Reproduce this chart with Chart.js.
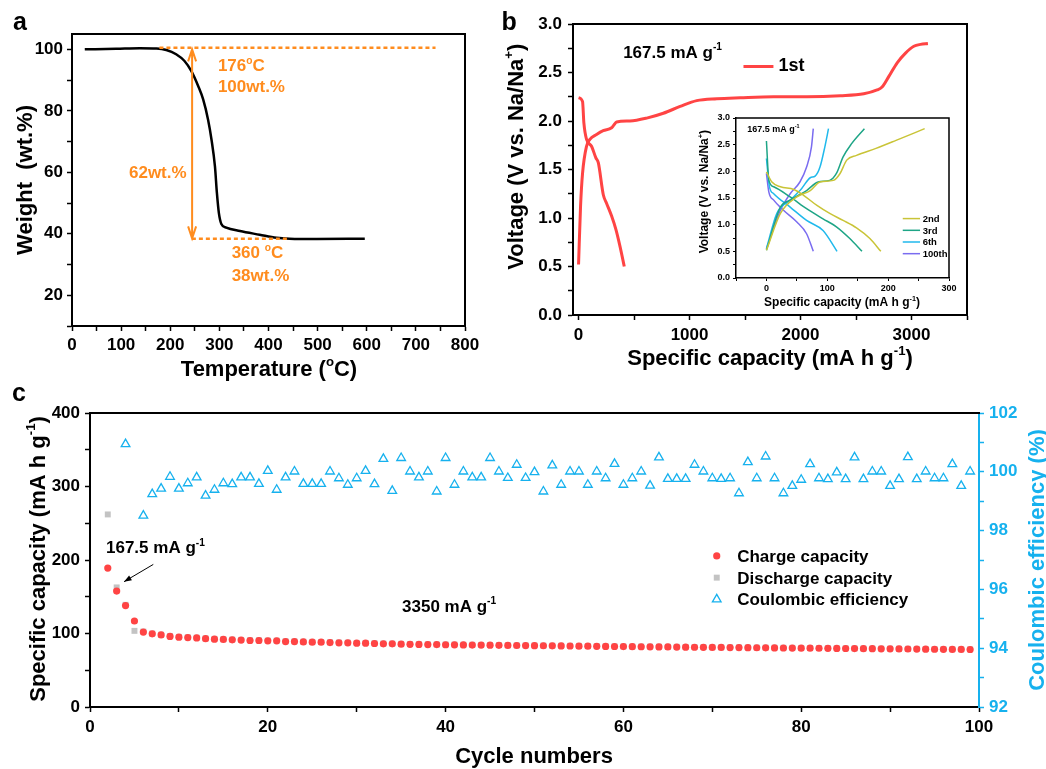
<!DOCTYPE html>
<html>
<head>
<meta charset="utf-8">
<script src="https://cdn.jsdelivr.net/npm/chart.js@4.4.1/dist/chart.umd.min.js"></script>
<style>
  html, body { margin: 0; padding: 0; background: #fff; }
  #wrap { position: relative; width: 1046px; height: 769px; overflow: hidden; }
  canvas { position: absolute; }
</style>
</head>
<body>
<div id="wrap">
  <canvas id="tga" width="485" height="385" style="left:0;top:0"></canvas>
  <canvas id="volt" width="561" height="385" style="left:485px;top:0"></canvas>
  <canvas id="inset" width="272" height="206" style="left:690px;top:108px"></canvas>
  <canvas id="cycle" width="1046" height="389" style="left:0;top:380px"></canvas>
</div>
<script>
const FONT = '"Liberation Sans", Arial, Helvetica, sans-serif';
const ORANGE = '#ff8c1e';
const RED = '#ff4444';
const GREY = '#c3c3c3';
const BLUE = '#16b1ee';

// ---- (a) TGA ----
const tgaTemp = [26, 90, 138, 172, 192, 212, 229, 243, 257, 267, 277, 284, 291, 295, 299, 304, 314, 342, 382, 416, 443, 498, 596];
const tgaWeight = [100.0, 100.2, 100.4, 100.3, 99.8, 98.4, 96.2, 92.9, 88.0, 83.7, 77.1, 70.6, 61.9, 53.2, 46.7, 43.2, 42.0, 40.9, 39.7, 38.7, 38.4, 38.3, 38.4];
const tgaTempTicks = [0, 100, 200, 300, 400, 500, 600, 700, 800];
const tgaWeightTicks = [20, 40, 60, 80, 100];

// ---- (b) first cycle ----
const firstDisCap = [0, 36, 48, 72, 117, 156, 178, 223, 253, 298, 337, 373, 412];
const firstDisV = [2.24, 2.20, 1.98, 1.81, 1.74, 1.62, 1.57, 1.24, 1.15, 1.02, 0.88, 0.71, 0.50];
const firstChgCap = [0, 18, 36, 72, 102, 162, 222, 298, 319, 343, 463, 614, 764, 915, 1065, 1246, 1456, 1757, 2058, 2359, 2570, 2690, 2735, 2796, 2871, 2946, 3021, 3082, 3148];
const firstChgV = [0.52, 1.12, 1.46, 1.74, 1.81, 1.86, 1.90, 1.93, 1.96, 1.99, 2.00, 2.03, 2.08, 2.15, 2.21, 2.23, 2.24, 2.25, 2.25, 2.26, 2.28, 2.32, 2.35, 2.46, 2.60, 2.70, 2.77, 2.79, 2.80];
const capTicks = [0, 1000, 2000, 3000];
const voltTicks = [0, 0.5, 1.0, 1.5, 2.0, 2.5, 3.0];

// ---- (b) inset: later cycles ----
const insetNames = ['2nd', '3rd', '6th', '100th'];
const insetColors = ['#c9c437', '#1ea586', '#20b9ec', '#7a6cf0'];
const disCap2 = [0, 9, 23, 45, 61, 83, 104, 126, 148, 170, 188];
const disV2 = [1.99, 1.80, 1.71, 1.66, 1.55, 1.36, 1.21, 1.08, 0.94, 0.74, 0.50];
const chgCap2 = [0, 23, 50, 72, 88, 110, 121, 132, 148, 180, 213, 260];
const chgV2 = [0.52, 1.21, 1.52, 1.64, 1.80, 1.83, 1.96, 2.21, 2.30, 2.43, 2.58, 2.80];
const disCap3 = [0, 4, 12, 39, 66, 93, 115, 137, 157];
const disV3 = [2.57, 1.83, 1.71, 1.52, 1.30, 1.11, 0.96, 0.74, 0.50];
const chgCap3 = [0, 23, 39, 66, 85, 104, 115, 126, 140, 161];
const chgV3 = [0.52, 1.33, 1.46, 1.64, 1.80, 1.83, 1.96, 2.27, 2.52, 2.80];
const disCap6 = [0, 5, 12, 39, 66, 93, 116];
const disV6 = [2.24, 1.71, 1.58, 1.33, 1.08, 0.89, 0.50];
const chgCap6 = [0, 17, 39, 58, 72, 80, 88, 96, 102];
const chgV6 = [0.55, 1.21, 1.46, 1.68, 1.88, 1.91, 2.08, 2.46, 2.80];
const disCap100 = [0, 4, 12, 28, 50, 66, 77];
const disV100 = [1.96, 1.61, 1.46, 1.27, 1.05, 0.83, 0.50];
const chgCap100 = [0, 23, 39, 55, 66, 74, 77];
const chgV100 = [0.55, 1.27, 1.58, 1.80, 2.08, 2.46, 2.80];
const insetCapTicks = [0, 100, 200, 300];

// ---- (c) cycling ----
const cycleNo = Array.from({ length: 98 }, (_, i) => i + 2);
const chargeCap = [189, 157.7, 138, 117, 102, 99.5, 98, 96, 95, 94.5, 94, 93, 92.3, 92, 91.4, 91, 90.5, 90.5, 90, 90,
  89, 89, 88.6, 88.2, 88.2, 87.7, 87.3, 87.3, 86.8, 86.8, 86.4, 86, 86, 85.5,
  85.3, 85.2, 85.0, 84.9, 84.7, 84.6, 84.5, 84.3, 84.2, 84.1,
  83.9, 83.8, 83.7, 83.6, 83.5, 83.3, 83.2, 83.1, 83.0, 82.8,
  82.7, 82.6, 82.4, 82.3, 82.2, 82.1, 82.0, 81.9, 81.8, 81.7,
  81.5, 81.4, 81.3, 81.2, 81.1, 81.0, 80.9, 80.8, 80.7, 80.6,
  80.5, 80.4, 80.3, 80.2, 80.1, 80.0, 79.9, 79.8, 79.7, 79.6,
  79.5, 79.4, 79.3, 79.2, 79.1, 79.0, 78.9, 78.8, 78.7, 78.6,
  78.5, 78.4, 78.3, 78.2];
const dischargeCap = [262, 162.7, 139, 103.6, 102.6, 100, 98.4, 96.5, 95.4, 94.9, 94.3, 93.4, 92.7, 92.3, 91.8, 91.3, 90.9, 90.8, 90.4, 90.3,
  89.4, 89.3, 88.9, 88.6, 88.5, 88.1, 87.7, 87.6, 87.2, 87.1, 86.8, 86.4, 86.3, 85.9,
  85.7, 85.5, 85.4, 85.2, 85.1, 85.0, 84.8, 84.7, 84.5, 84.4,
  84.3, 84.1, 84.0, 83.9, 83.8, 83.7, 83.5, 83.4, 83.3, 83.2,
  83.0, 82.9, 82.8, 82.6, 82.5, 82.4, 82.3, 82.2, 82.1, 82.0,
  81.9, 81.7, 81.6, 81.5, 81.4, 81.3, 81.2, 81.1, 81.0, 80.9,
  80.8, 80.7, 80.6, 80.5, 80.4, 80.3, 80.2, 80.1, 80.0, 79.9,
  79.8, 79.7, 79.6, 79.5, 79.4, 79.3, 79.2, 79.1, 79.0, 78.9,
  78.8, 78.7, 78.6, 78.5];
const coulombEff = [null, null, 100.94, null, 98.51, 99.24, 99.43, 99.83, 99.43, 99.61, 99.81, 99.19, 99.39, 99.61, 99.58, 99.81, 99.81, 99.59, 100.03, 99.39,
  99.81, 100.01, 99.59, 99.59, 99.59, 100.01, 99.78, 99.56, 99.78, 100.03, 99.58, 100.44, 99.35, 100.47,
  100.01, 99.81, 100.01, 99.33, 100.47, 99.56, 100.01, 99.81, 99.81, 100.47,
  100.01, 99.79, 100.24, 99.79, 99.99, 99.33, 100.22, 99.56, 100.01, 100.01,
  99.56, 100.01, 99.78, 100.27, 99.56, 99.78, 100.01, 99.53, 100.49, 99.76,
  99.76, 99.76, 100.24, 100.01, 99.78, 99.76, 99.78, 99.27, 100.33, 99.78,
  100.52, 99.78, 99.27, 99.52, 99.73, 100.26, 99.78, 99.75, 99.98, 99.75,
  100.49, 99.75, 100.01, 100.01, 99.52, 99.75, 100.5, 99.75, 100.01, 99.78,
  99.78, 100.26, 99.52, 100.01];
const cycleTicks = [0, 20, 40, 60, 80, 100];
const capCTicks = [0, 100, 200, 300, 400];
const ceTicks = [92, 94, 96, 98, 100, 102];

// ---------- helpers ----------
const font = size => `bold ${size}px ${FONT}`;
const pts = (xs, ys) => xs.map((x, i) => ({ x, y: ys[i] }));

function steps(min, max, step) {
  const out = [];
  for (let v = Math.ceil(min / step - 1e-9) * step; v <= max + 1e-9; v += step) out.push(Math.round(v * 1000) / 1000);
  return out;
}

function axis(o) {
  const color = o.color || '#000';
  return {
    type: 'linear', position: o.pos, min: o.min, max: o.max,
    afterFit: s => {
      if (s.isHorizontal()) s.height = o.box; else s.width = o.box;
      s.paddingLeft = s.paddingRight = s.paddingTop = s.paddingBottom = 0;
    },
    afterBuildTicks: s => { s.ticks = steps(o.min, o.max, o.minor).map(v => ({ value: v })); },
    grid: { drawOnChartArea: false, drawTicks: true, tickLength: o.tick || 5, tickWidth: o.tw || 1.5, tickColor: color },
    border: { display: true, width: o.bw || 2, color },
    ticks: {
      autoSkip: false, maxRotation: 0, padding: o.pad, color,
      font: { family: FONT, size: o.size, weight: 'bold' },
      callback: v => o.major.some(m => Math.abs(m - v) < 1e-6) ? (o.fmt ? o.fmt(v) : String(v)) : ''
    }
  };
}

function baseOptions(padding, scales) {
  return {
    responsive: false, animation: false, devicePixelRatio: 1, events: [],
    layout: { padding },
    plugins: { legend: { display: false }, tooltip: { enabled: false } },
    scales
  };
}

// text with ^{...} superscripts
function parts(str) {
  const out = [], re = /\^\{([^}]*)\}/g;
  let last = 0, m;
  while ((m = re.exec(str))) {
    if (m.index > last) out.push([str.slice(last, m.index), false]);
    out.push([m[1], true]);
    last = re.lastIndex;
  }
  if (last < str.length) out.push([str.slice(last), false]);
  return out;
}
function rich(ctx, str, x, y, size, color, align) {
  const segs = parts(str), ss = size * 0.6;
  ctx.save();
  ctx.fillStyle = color; ctx.textAlign = 'left'; ctx.textBaseline = 'alphabetic';
  let w = 0;
  segs.forEach(([t, s]) => { ctx.font = font(s ? ss : size); w += ctx.measureText(t).width; });
  let cx = align === 'center' ? x - w / 2 : x;
  segs.forEach(([t, s]) => {
    ctx.font = font(s ? ss : size);
    ctx.fillText(t, cx, s ? y - size * 0.45 : y);
    cx += ctx.measureText(t).width;
  });
  ctx.restore();
}
function vrich(ctx, str, x, y, size, color) {
  ctx.save(); ctx.translate(x, y); ctx.rotate(-Math.PI / 2);
  rich(ctx, str, 0, 0, size, color, 'center');
  ctx.restore();
}

const frame = (sides, lw) => ({
  id: 'frame',
  afterDraw(chart) {
    const { ctx, chartArea: a } = chart;
    ctx.save(); ctx.strokeStyle = '#000'; ctx.lineWidth = lw; ctx.beginPath();
    if (sides.includes('t')) { ctx.moveTo(a.left - lw / 2, a.top); ctx.lineTo(a.right + lw / 2, a.top); }
    if (sides.includes('r')) { ctx.moveTo(a.right, a.top); ctx.lineTo(a.right, a.bottom); }
    ctx.stroke(); ctx.restore();
  }
});
const decor = fn => ({ id: 'decor', afterDraw: chart => fn(chart, chart.ctx) });

// ---------- (a) ----------
new Chart(document.getElementById('tga'), {
  type: 'scatter',
  data: { datasets: [{ data: pts(tgaTemp, tgaWeight), showLine: true, borderColor: '#000', borderWidth: 2.5, pointRadius: 0, cubicInterpolationMode: 'monotone' }] },
  options: baseOptions({ top: 34, right: 20, left: 0, bottom: 0 }, {
    x: axis({ pos: 'bottom', min: 0, max: 800, minor: 50, major: tgaTempTicks, box: 59, size: 17, pad: 4 }),
    y: axis({ pos: 'left', min: 10, max: 105, minor: 10, major: tgaWeightTicks, box: 72, size: 17, pad: 4 })
  }),
  plugins: [frame('tr', 2), decor((chart, ctx) => {
    const px = v => chart.scales.x.getPixelForValue(v), py = v => chart.scales.y.getPixelForValue(v);
    ctx.save();
    ctx.strokeStyle = ORANGE; ctx.lineWidth = 2.5; ctx.setLineDash([4, 3]);
    ctx.beginPath();
    ctx.moveTo(px(178), py(100.55)); ctx.lineTo(px(740), py(100.55));
    ctx.moveTo(px(244), py(38.4)); ctx.lineTo(px(442), py(38.4));
    ctx.stroke();
    ctx.setLineDash([]); ctx.lineWidth = 2;
    const ax = px(244.5), y1 = py(100), y2 = py(38.5);
    ctx.beginPath();
    ctx.moveTo(ax, y1); ctx.lineTo(ax, y2);
    ctx.moveTo(ax - 4, y1 + 12); ctx.lineTo(ax, y1); ctx.lineTo(ax + 4, y1 + 12);
    ctx.moveTo(ax - 4, y2 - 12); ctx.lineTo(ax, y2); ctx.lineTo(ax + 4, y2 - 12);
    ctx.stroke();
    ctx.restore();
    rich(ctx, '176^{o}C', px(297), py(92.9), 17, ORANGE);
    rich(ctx, '100wt.%', px(297), py(86.2), 17, ORANGE);
    rich(ctx, '62wt.%', px(116), py(58.1), 17, ORANGE);
    rich(ctx, '360 ^{o}C', px(325), py(32.0), 17, ORANGE);
    rich(ctx, '38wt.%', px(325), py(24.7), 17, ORANGE);
    rich(ctx, 'Temperature (^{o}C)', 269, 376, 22, '#000', 'center');
    vrich(ctx, 'Weight  (wt.%)', 31.5, 180, 22, '#000');
    rich(ctx, 'a', 13, 29.5, 25, '#000');
  })]
});

// ---------- (b) ----------
new Chart(document.getElementById('volt'), {
  type: 'scatter',
  data: { datasets: [
    { data: pts(firstDisCap, firstDisV), showLine: true, borderColor: RED, borderWidth: 3, pointRadius: 0, cubicInterpolationMode: 'monotone' },
    { data: pts(firstChgCap, firstChgV), showLine: true, borderColor: RED, borderWidth: 3, pointRadius: 0, cubicInterpolationMode: 'monotone' }
  ] },
  options: baseOptions({ top: 24, right: 79, left: 0, bottom: 0 }, {
    x: axis({ pos: 'bottom', min: -50, max: 3500, minor: 500, major: capTicks, box: 70, size: 17, pad: 5 }),
    y: axis({ pos: 'left', min: 0, max: 3, minor: 0.25, major: voltTicks, box: 88, size: 17, pad: 6, fmt: v => v.toFixed(1) })
  }),
  plugins: [frame('tr', 2), decor((chart, ctx) => {
    const px = v => chart.scales.x.getPixelForValue(v), py = v => chart.scales.y.getPixelForValue(v);
    rich(ctx, '167.5 mA g^{-1}', px(402), py(2.649), 17, '#000');
    ctx.save(); ctx.strokeStyle = RED; ctx.lineWidth = 3;
    ctx.beginPath(); ctx.moveTo(px(1486), py(2.562)); ctx.lineTo(px(1756), py(2.562)); ctx.stroke();
    ctx.restore();
    rich(ctx, '1st', px(1801), py(2.511), 18, '#000');
    rich(ctx, 'Specific capacity (mA h g^{-1})', 285, 365, 22, '#000', 'center');
    vrich(ctx, 'Voltage (V vs. Na/Na^{+})', 37.7, 156.7, 22, '#000');
    rich(ctx, 'b', 16.5, 30, 25, '#000');
  })]
});

// ---------- (b) inset ----------
const insetCurves = [[disCap2, disV2, chgCap2, chgV2], [disCap3, disV3, chgCap3, chgV3], [disCap6, disV6, chgCap6, chgV6], [disCap100, disV100, chgCap100, chgV100]];
const insetSets = [];
insetCurves.forEach((c, i) => {
  insetSets.push({ data: pts(c[0], c[1]), showLine: true, borderColor: insetColors[i], borderWidth: 1.5, pointRadius: 0, cubicInterpolationMode: 'monotone' });
  insetSets.push({ data: pts(c[2], c[3]), showLine: true, borderColor: insetColors[i], borderWidth: 1.5, pointRadius: 0, cubicInterpolationMode: 'monotone' });
});
new Chart(document.getElementById('inset'), {
  type: 'scatter',
  data: { datasets: insetSets },
  options: baseOptions({ top: 10, right: 13, left: 0, bottom: 0 }, {
    x: axis({ pos: 'bottom', min: -50, max: 300, minor: 50, major: insetCapTicks, box: 36, size: 9, pad: 2, tick: 3, tw: 1, bw: 1.5 }),
    y: axis({ pos: 'left', min: 0, max: 3, minor: 0.25, major: voltTicks, box: 46, size: 9, pad: 3, tick: 3, tw: 1, bw: 1.5, fmt: v => v.toFixed(1) })
  }),
  plugins: [frame('tr', 1.5), decor((chart, ctx) => {
    const px = v => chart.scales.x.getPixelForValue(v), py = v => chart.scales.y.getPixelForValue(v);
    rich(ctx, '167.5 mA g^{-1}', px(-31.5), py(2.74), 9, '#000');
    const rows = [1.114, 0.894, 0.675, 0.456];
    rows.forEach((v, i) => {
      ctx.save(); ctx.strokeStyle = insetColors[i]; ctx.lineWidth = 1.5;
      ctx.beginPath(); ctx.moveTo(px(224), py(v)); ctx.lineTo(px(252.4), py(v)); ctx.stroke();
      ctx.restore();
      rich(ctx, insetNames[i], px(256.7), py(v) + 3.3, 9.5, '#000');
    });
    rich(ctx, 'Specific capacity (mA h g^{-1})', 152, 198, 12, '#000', 'center');
    vrich(ctx, 'Voltage (V vs. Na/Na^{+})', 18.3, 83.7, 12, '#000');
  })]
});

// ---------- (c) ----------
const legendC = ['Charge capacity', 'Discharge capacity', 'Coulombic efficiency'];
const setsC = [
  { data: pts(cycleNo, chargeCap), yAxisID: 'y', pointStyle: 'circle', pointRadius: 3.6, backgroundColor: RED, borderWidth: 0 },
  { data: pts(cycleNo, dischargeCap), yAxisID: 'y', pointStyle: 'rect', pointRadius: 4.2, backgroundColor: GREY, borderWidth: 0 },
  { data: pts(cycleNo, coulombEff), yAxisID: 'y2', pointStyle: 'triangle', pointRadius: 5, backgroundColor: 'rgba(0,0,0,0)', borderColor: BLUE, borderWidth: 1.3 }
];
new Chart(document.getElementById('cycle'), {
  type: 'scatter',
  data: { datasets: setsC },
  options: baseOptions({ top: 33, right: 0, left: 0, bottom: 0 }, {
    x: axis({ pos: 'bottom', min: 0, max: 100, minor: 10, major: cycleTicks, box: 62, size: 17, pad: 5 }),
    y: axis({ pos: 'left', min: 0, max: 400, minor: 50, major: capCTicks, box: 90, size: 17, pad: 5 }),
    y2: axis({ pos: 'right', min: 92, max: 102, minor: 1, major: ceTicks, box: 67, size: 17, pad: 5, color: BLUE })
  }),
  plugins: [frame('t', 2), decor((chart, ctx) => {
    const px = v => chart.scales.x.getPixelForValue(v), py = v => chart.scales.y.getPixelForValue(v);
    rich(ctx, '167.5 mA g^{-1}', px(1.8), py(209), 17, '#000');
    const x1 = px(7.12), y1 = py(194), x2 = px(3.83), y2 = py(170.5);
    const ang = Math.atan2(y2 - y1, x2 - x1);
    ctx.save(); ctx.strokeStyle = '#000'; ctx.fillStyle = '#000'; ctx.lineWidth = 1;
    ctx.beginPath(); ctx.moveTo(x1, y1); ctx.lineTo(x2, y2); ctx.stroke();
    ctx.beginPath(); ctx.moveTo(x2, y2);
    ctx.lineTo(x2 - 8 * Math.cos(ang - 0.35), y2 - 8 * Math.sin(ang - 0.35));
    ctx.lineTo(x2 - 8 * Math.cos(ang + 0.35), y2 - 8 * Math.sin(ang + 0.35));
    ctx.closePath(); ctx.fill();
    ctx.restore();
    rich(ctx, '3350 mA g^{-1}', px(35.1), py(129.5), 17, '#000');
    const rows = [205.5, 176, 146.5];
    rows.forEach((v, i) => {
      const d = setsC[i];
      ctx.save();
      ctx.fillStyle = d.backgroundColor; ctx.strokeStyle = d.borderColor || d.backgroundColor; ctx.lineWidth = d.borderWidth;
      Chart.helpers.drawPoint(ctx, { pointStyle: d.pointStyle, radius: d.pointRadius, rotation: 0, borderWidth: d.borderWidth }, px(70.5), py(v));
      ctx.restore();
      rich(ctx, legendC[i], px(72.8), py(v) + 6, 17, '#000');
    });
    rich(ctx, 'Cycle numbers', 534, 383, 22, '#000', 'center');
    vrich(ctx, 'Specific capacity (mA h g^{-1})', 45, 179, 22, '#000');
    vrich(ctx, 'Coulombic efficiency (%)', 1044, 180, 22, BLUE);
    rich(ctx, 'c', 12, 20.5, 25, '#000');
  })]
});
</script>
</body>
</html>
